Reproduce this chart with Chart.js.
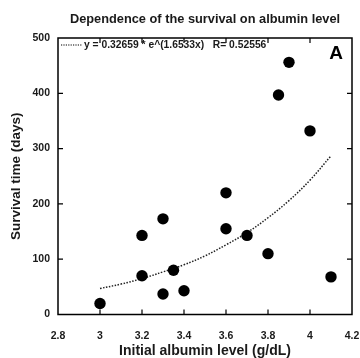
<!DOCTYPE html>
<html>
<head>
<meta charset="utf-8">
<script src="https://cdn.jsdelivr.net/npm/chart.js@4.4.1/dist/chart.umd.min.js"></script>
<style>
  html, body { margin: 0; padding: 0; background: #ffffff; }
  #wrap { width: 360px; height: 358px; }
</style>
</head>
<body>
<div id="wrap"><canvas id="c" width="360" height="358"></canvas></div>
<script>
// ---- data ----
const albumin  = [3.0, 3.2, 3.2, 3.3, 3.3, 3.35, 3.4, 3.6, 3.6, 3.7, 3.8, 3.85, 3.9, 4.0, 4.1];
const survival = [20, 70, 143, 173, 37, 80, 43, 220, 155, 143, 110, 397, 456, 332, 68];

// fitted curve as drawn in the picture (dotted line)
const trendX = [3.0, 3.1, 3.2, 3.3, 3.4, 3.5, 3.6, 3.7, 3.8, 3.9, 4.0, 4.1];
const trendY = [47, 55, 65, 77, 90, 106, 126, 148, 175, 206, 243, 287];

const xTickLabels = ['2.8', '3', '3.2', '3.4', '3.6', '3.8', '4', '4.2'];
const yTickLabels = ['0', '100', '200', '300', '400', '500'];

const titleText  = 'Dependence of the survival on albumin level';
const xTitleText = 'Initial albumin level (g/dL)';
const yTitleText = 'Survival time (days)';
const legendText = 'y = 0.32659 * e^(1.6533x)   R= 0.52556';
const panelLabel = 'A';

const FONT = '"Liberation Sans", Arial, sans-serif';
const INK = '#1a1a1a';

const pointData = albumin.map((x, i) => ({ x: x, y: survival[i] }));
const trendData = trendX.map((x, i) => ({ x: x, y: trendY[i] }));

const framePlugin = {
  id: 'frame',
  afterDatasetsDraw(chart) {
    const { ctx, chartArea: a, scales } = chart;
    const xs = scales.x, ys = scales.y;
    ctx.save();
    ctx.strokeStyle = '#000';
    ctx.lineWidth = 1.5;
    ctx.strokeRect(a.left, a.top, a.right - a.left, a.bottom - a.top);
    const tl = 5;
    ctx.lineWidth = 1.2;
    ctx.beginPath();
    xs.ticks.forEach(t => {
      const px = xs.getPixelForValue(t.value);
      if (px <= a.left + 1 || px >= a.right - 1) return;
      ctx.moveTo(px, a.bottom); ctx.lineTo(px, a.bottom - tl);
      ctx.moveTo(px, a.top); ctx.lineTo(px, a.top + tl);
    });
    ys.ticks.forEach(t => {
      const py = ys.getPixelForValue(t.value);
      if (py <= a.top + 1 || py >= a.bottom - 1) return;
      ctx.moveTo(a.left, py); ctx.lineTo(a.left + tl, py);
      ctx.moveTo(a.right, py); ctx.lineTo(a.right - tl, py);
    });
    ctx.stroke();

    // legend entry (dotted sample + equation)
    const ly = a.top + 7;
    ctx.lineWidth = 1.2;
    ctx.setLineDash([1.2, 1.2]);
    ctx.beginPath();
    ctx.moveTo(a.left + 3, ly);
    ctx.lineTo(a.left + 24, ly);
    ctx.stroke();
    ctx.setLineDash([]);
    ctx.fillStyle = INK;
    ctx.font = 'bold 10.3px ' + FONT;
    ctx.textBaseline = 'middle';
    ctx.textAlign = 'left';
    ctx.fillText(legendText, a.left + 26, ly);

    // panel label
    ctx.font = 'bold 19px ' + FONT;
    ctx.textAlign = 'center';
    ctx.fillStyle = '#000';
    ctx.fillText(panelLabel, a.right - 16, a.top + 16);
    ctx.restore();
  }
};

new Chart(document.getElementById('c'), {
  type: 'scatter',
  data: {
    datasets: [
      {
        label: 'patients',
        data: pointData,
        backgroundColor: '#000',
        borderColor: '#000',
        pointRadius: 5.7,
        pointHoverRadius: 5.7,
        borderWidth: 0,
        clip: false,
        order: 1
      },
      {
        label: 'fit',
        type: 'line',
        data: trendData,
        borderColor: '#222',
        borderWidth: 1.5,
        borderDash: [1.5, 1.5],
        pointRadius: 0,
        tension: 0.4,
        fill: false,
        order: 2
      }
    ]
  },
  options: {
    responsive: false,
    animation: false,
    devicePixelRatio: 1,
    layout: { padding: { left: 0, right: 8, top: 0, bottom: 0 } },
    plugins: {
      legend: { display: false },
      tooltip: { enabled: false },
      title: {
        display: true,
        text: titleText,
        fullSize: false,
        color: INK,
        font: { family: FONT, size: 12.8, weight: 'bold', lineHeight: 1.2 },
        padding: { top: 12, bottom: 10.64 }
      }
    },
    scales: {
      x: {
        type: 'linear',
        min: 2.8,
        max: 4.2,
        border: { display: false },
        grid: { display: false, drawTicks: false },
        ticks: {
          stepSize: 0.2,
          padding: 15,
          color: INK,
          font: { family: FONT, size: 10.5, weight: 'bold' },
          maxRotation: 0,
          autoSkip: false,
          callback: (v, i) => xTickLabels[i]
        },
        title: {
          display: true,
          text: xTitleText,
          color: INK,
          font: { family: FONT, size: 14, weight: 'bold', lineHeight: 1 },
          padding: { top: 0, bottom: 0 }
        },
        afterFit(scale) {
          scale.height = 43.5;
          scale.paddingLeft = 0;
          scale.paddingRight = 0;
        }
      },
      y: {
        type: 'linear',
        min: 0,
        max: 500,
        border: { display: false },
        grid: { display: false, drawTicks: false },
        ticks: {
          stepSize: 100,
          padding: 8,
          color: INK,
          font: { family: FONT, size: 10.5, weight: 'bold' },
          callback: (v, i) => yTickLabels[i]
        },
        title: {
          display: true,
          text: yTitleText,
          color: INK,
          font: { family: FONT, size: 13.5, weight: 'bold', lineHeight: 1.2 },
          padding: { top: 8, bottom: 0 }
        },
        afterFit(scale) {
          scale.width = 58;
          scale.paddingTop = 0;
          scale.paddingBottom = 0;
        }
      }
    }
  },
  plugins: [framePlugin]
});
</script>
</body>
</html>
